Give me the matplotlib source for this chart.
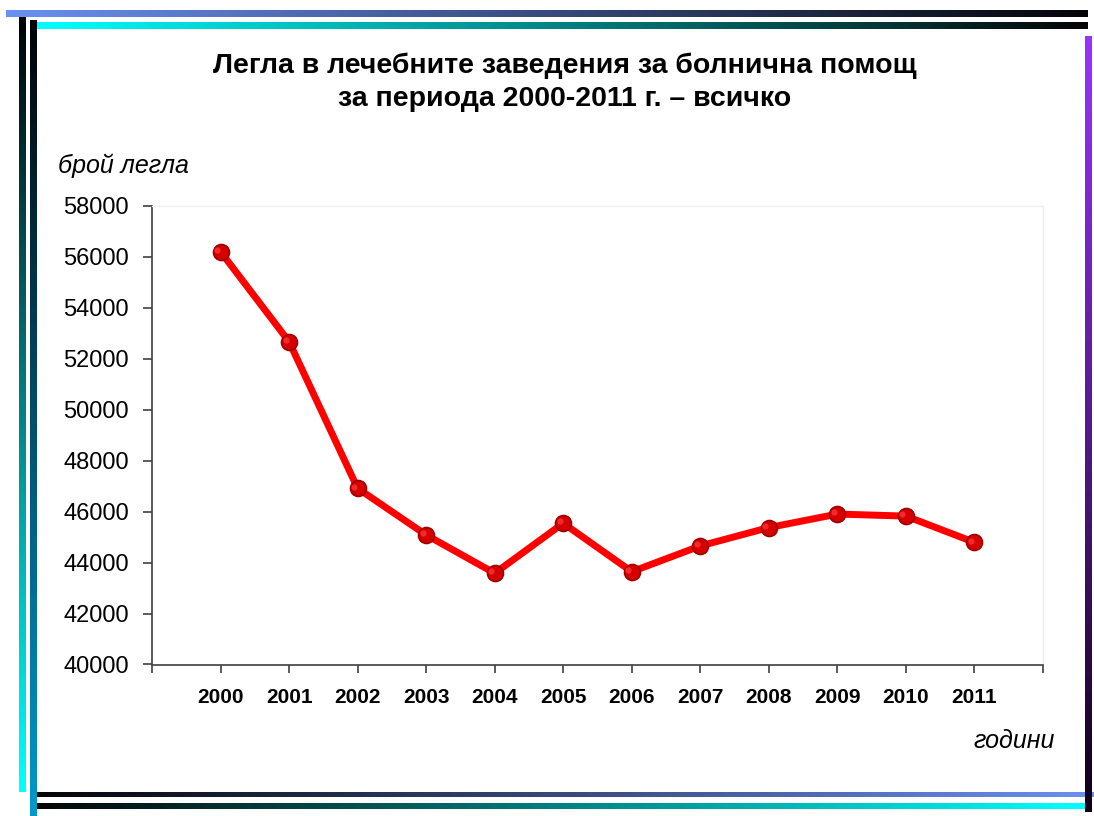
import numpy as np
import matplotlib
matplotlib.use("Agg")
import matplotlib.pyplot as plt
from matplotlib.colors import LinearSegmentedColormap

# ---- data ----
years = ["2000", "2001", "2002", "2003", "2004", "2005",
         "2006", "2007", "2008", "2009", "2010", "2011"]
beds = [56190, 52660, 46910, 45080, 43580, 45540,
        43640, 44650, 45370, 45900, 45820, 44790]
yticks = [40000, 42000, 44000, 46000, 48000, 50000, 52000, 54000, 56000, 58000]
title1 = "Легла в лечебните заведения за болнична помощ"
title2 = "за периода 2000-2011 г. – всичко"
ylabel = "брой легла"
xlabel = "години"

W, H = 1094, 816
fig = plt.figure(figsize=(W / 100, H / 100), dpi=100, facecolor="white")

# ---- decorative frame (pixel coordinates) ----
bg = fig.add_axes([0, 0, 1, 1], zorder=0)
bg.set_xlim(0, W)
bg.set_ylim(H, 0)
bg.axis("off")


def grad_bar(x0, x1, y0, y1, c_start, c_end, horizontal=True):
    cmap = LinearSegmentedColormap.from_list("g", [c_start, c_end])
    g = np.linspace(0, 1, 256)
    arr = g[np.newaxis, :] if horizontal else g[:, np.newaxis]
    bg.imshow(arr, cmap=cmap, extent=(x0, x1, y1, y0), aspect="auto",
              interpolation="bilinear")


# top lines
grad_bar(6, 1088, 10, 17, "#6a90f0", "#050508")
grad_bar(33, 1088, 22, 29, "#00ffff", "#050505")
# left verticals
grad_bar(19, 26, 17, 792, "#020205", "#00ffff", horizontal=False)
grad_bar(30, 37, 20, 816, "#020205", "#0099cc", horizontal=False)
# bottom lines
grad_bar(37, 1094, 792, 797, "#050508", "#6a90f0")
grad_bar(37, 1090, 803, 809, "#050505", "#00ffff")
# right vertical
grad_bar(1085, 1092, 36, 812, "#9933ff", "#100018", horizontal=False)
bg.set_xlim(0, W)
bg.set_ylim(H, 0)

# ---- main chart ----
left, right, top, bottom = 152, 1043, 205.5, 664.5
ax = fig.add_axes([left / W, (H - bottom) / H, (right - left) / W, (bottom - top) / H],
                  zorder=2)
ax.set_facecolor("white")

x = np.arange(len(years))
ax.plot(x, beds, color="#ff0000", lw=5, solid_capstyle="round", zorder=3)
ax.plot(x, beds, linestyle="none", marker="o", markersize=11.5,
        markerfacecolor="#d40000", markeredgecolor="#a00000", markeredgewidth=1.2,
        zorder=4)
ax.plot(np.array(x) - 0.05, np.array(beds) + 70, linestyle="none", marker="o",
        markersize=4.5, markerfacecolor="#ff3030", markeredgewidth=0, alpha=0.85,
        zorder=5)

ax.set_xlim(-1, len(years))
ax.set_ylim(40000, 58000)
ax.set_xticks(list(range(-1, len(years) + 1)))
ax.set_xticklabels([""] + years + [""], fontsize=15, fontweight="bold",
                   family="Liberation Sans")
ax.set_yticks(yticks)
ax.set_yticklabels([str(v) for v in yticks], fontsize=17, family="Liberation Sans")

ax.tick_params(axis="y", direction="out", length=6.5, width=1.2, color="#404040", pad=10)
ax.tick_params(axis="x", direction="out", length=6, width=1.2, color="#404040", pad=11)

for s in ["left", "bottom"]:
    ax.spines[s].set_color("#404040")
    ax.spines[s].set_linewidth(1.2)
for s in ["top", "right"]:
    ax.spines[s].set_color("#eeeeee")
    ax.spines[s].set_linewidth(1.0)

# ---- texts ----
fig.text(564.5 / W, 1 - 66 / H, title1, ha="center", va="center",
         fontsize=20.5, fontweight="bold", family="Liberation Sans")
fig.text(565 / W, 1 - 99 / H, title2, ha="center", va="center",
         fontsize=20.5, fontweight="bold", family="Liberation Sans")
fig.text(58 / W, 1 - 166 / H, ylabel, ha="left", va="center",
         fontsize=18, style="italic", family="Liberation Sans")
fig.text(1055 / W, 1 - 741 / H, xlabel, ha="right", va="center",
         fontsize=18, style="italic", family="Liberation Sans")

fig.savefig("out.png", dpi=100, facecolor="white")
